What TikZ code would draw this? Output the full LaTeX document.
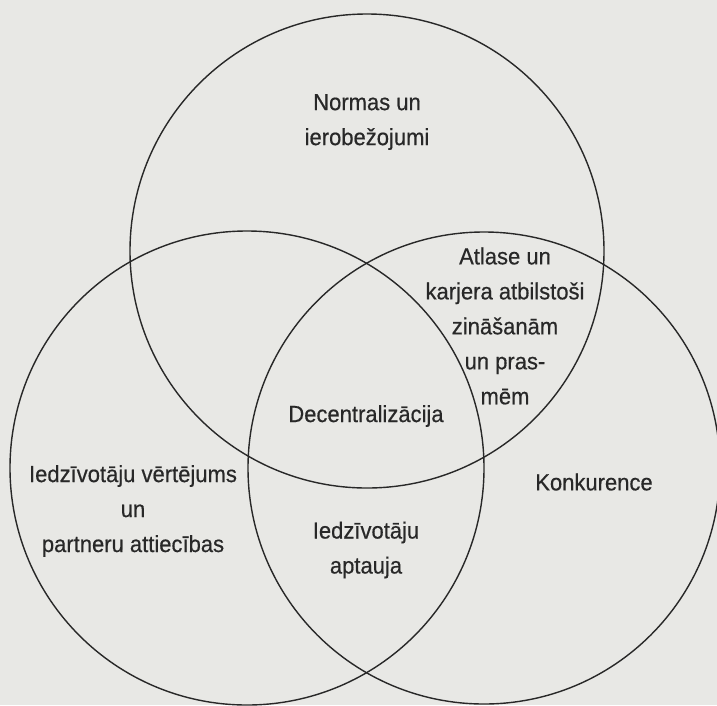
\documentclass[tikz,border=0pt]{standalone}
\usepackage{fontspec}
\setmainfont{Liberation Sans}[FakeBold=0.5]
\begin{document}
\definecolor{paper}{RGB}{232,232,229}
\definecolor{ink}{RGB}{40,40,40}
\begin{tikzpicture}[x=1pt,y=-1pt,
  ring/.style={draw=ink, line width=1.4pt, circle, inner sep=0pt, minimum size=#1},
  lbl/.style={text=ink, font=\fontsize{22}{33}\selectfont, align=center, inner sep=0pt, yscale=1.06}]
  % paper
  \fill[paper] (0,0) rectangle (717,705);
  \useasboundingbox (0,0) rectangle (717,705);
  % three overlapping sets
  \node[ring=474pt] (ctop)   at (367,251) {};
  \node[ring=474pt] (cleft)  at (247,468) {};
  \node[ring=472pt] (cright) at (484,468) {};
  % labels
  \node[lbl] (norm) at (367,122) {Normas un\\ierobežojumi};
  \node[lbl] (atl)  at (505,326) {Atlase un\\karjera atbilstoši\\zināšanām\\un pras-\\mēm};
  \node[lbl] (dec)  at (366,416) {Decentralizācija};
  \node[lbl] (vert) at (133,511) {Iedzīvotāju vērtējums\\un\\partneru attiecības};
  \node[lbl] (konk) at (594,482) {Konkurence};
  \node[lbl] (apt)  at (366,550) {Iedzīvotāju\\aptauja};
\end{tikzpicture}
\end{document}
